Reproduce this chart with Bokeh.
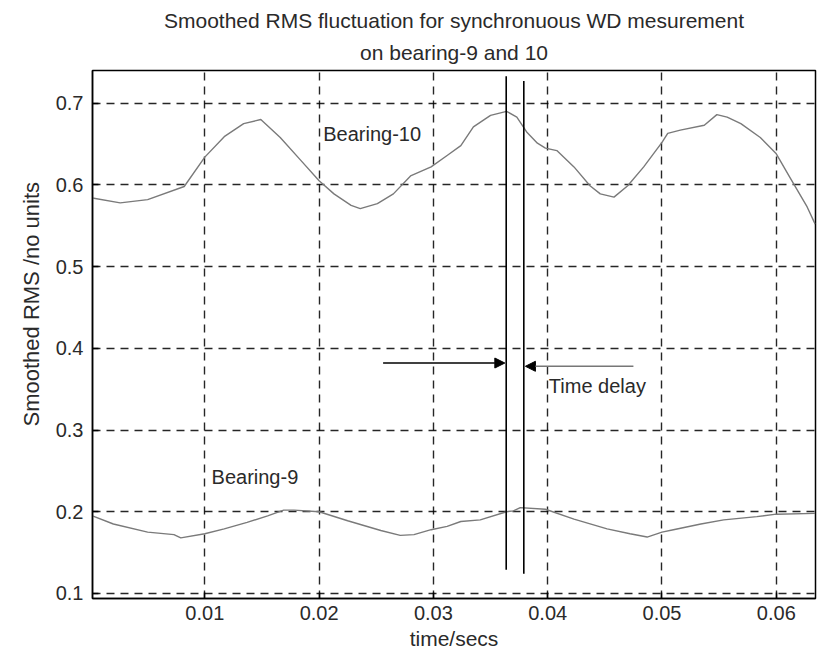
from bokeh.plotting import figure
from bokeh.models import Range1d, FixedTicker, Label, Arrow, NormalHead, Title
from bokeh.embed import file_html
from bokeh.resources import INLINE

# ---- data ----
b10_t = [0.00017, 0.0026, 0.0050, 0.0082, 0.0100, 0.0117, 0.0134, 0.0149, 0.0166, 0.0184,
         0.0200, 0.0213, 0.0228, 0.0236, 0.0251, 0.0265, 0.0280, 0.0298, 0.0312, 0.0324,
         0.0335, 0.0350, 0.0364, 0.0373, 0.0382, 0.0391, 0.0398, 0.0408, 0.0423, 0.0437,
         0.0446, 0.0458, 0.0470, 0.0484, 0.0500, 0.0505, 0.0516, 0.0537, 0.0548, 0.0557,
         0.0569, 0.0586, 0.0600, 0.0612, 0.0627, 0.0634]
b10_v = [0.584, 0.578, 0.582, 0.598, 0.634, 0.659, 0.675, 0.680, 0.658, 0.630,
         0.605, 0.589, 0.575, 0.571, 0.577, 0.589, 0.611, 0.622, 0.636, 0.648,
         0.671, 0.685, 0.690, 0.683, 0.664, 0.651, 0.645, 0.642, 0.622, 0.599,
         0.589, 0.585, 0.599, 0.622, 0.652, 0.663, 0.667, 0.673, 0.686, 0.683,
         0.675, 0.658, 0.638, 0.609, 0.573, 0.552]

b9_t = [0.00017, 0.0020, 0.0050, 0.0073, 0.0079, 0.0100, 0.0117, 0.0137, 0.0155, 0.0169,
        0.0178, 0.0200, 0.0225, 0.0254, 0.0271, 0.0283, 0.0298, 0.0312, 0.0324, 0.0341,
        0.0364, 0.0370, 0.0376, 0.0398, 0.0423, 0.0452, 0.0472, 0.0487, 0.0500, 0.0510,
        0.0534, 0.0554, 0.0583, 0.0600, 0.0634]
b9_v = [0.195, 0.185, 0.175, 0.172, 0.168, 0.173, 0.179, 0.187, 0.195, 0.202,
        0.202, 0.200, 0.189, 0.177, 0.171, 0.172, 0.178, 0.182, 0.188, 0.190,
        0.200, 0.201, 0.205, 0.203, 0.191, 0.179, 0.173, 0.169, 0.175, 0.178,
        0.185, 0.190, 0.194, 0.197, 0.198]

x_ticks = [0.01, 0.02, 0.03, 0.04, 0.05, 0.06]
y_ticks = [0.1, 0.2, 0.3, 0.4, 0.5, 0.6, 0.7]

delay_x = [0.03637, 0.03791]
delay_y0 = [0.129, 0.124]
delay_y1 = [0.733, 0.727]

arrow_left = dict(x0=0.0256, x1=0.03625, y=0.382)
arrow_right = dict(x0=0.0475, x1=0.03805, y=0.378)

title_lines = ["Smoothed RMS fluctuation for synchronuous WD mesurement",
               "on bearing-9 and 10"]
x_label = "time/secs"
y_label = "Smoothed RMS /no units"

FONT = "Liberation Sans"
TXT = "#2a2a2a"

p = figure(width=818, height=657, output_backend="svg", toolbar_location=None,
           x_range=Range1d(0.000175, 0.06343), y_range=Range1d(0.0938, 0.740),
           min_border_left=92, min_border_right=3, min_border_top=70, min_border_bottom=59)
p.background_fill_color = "white"
p.border_fill_color = "white"
p.outline_line_color = "black"
p.outline_line_width = 1.5

for ax, ticks in ((p.xaxis[0], x_ticks), (p.yaxis[0], y_ticks)):
    ax.ticker = FixedTicker(ticks=ticks)
    ax.major_tick_in = 6
    ax.major_tick_out = 0
    ax.minor_tick_line_color = None
    ax.axis_line_color = "black"
    ax.axis_line_width = 1.5
    ax.major_tick_line_width = 1.5
    ax.major_label_text_font = FONT
    ax.major_label_text_font_size = "20px"
    ax.major_label_text_color = TXT
    ax.axis_label_text_font = FONT
    ax.axis_label_text_font_size = "21px"
    ax.axis_label_text_font_style = "normal"
    ax.axis_label_text_color = TXT

p.xaxis.axis_label = x_label
p.xaxis.major_label_standoff = 7
p.xaxis.axis_label_standoff = 4
p.yaxis.major_label_standoff = 9

# y label as a left-side title so it can sit off-centre like the original
p.add_layout(Title(text=y_label, align="left", offset=172, standoff=18,
                   text_font=FONT, text_font_size="22px", text_font_style="normal",
                   text_color=TXT), "left")
# two-line title (nearest line first)
p.add_layout(Title(text=title_lines[1], align="center", standoff=14,
                   text_font=FONT, text_font_size="21px", text_font_style="normal",
                   text_color=TXT), "above")
p.add_layout(Title(text=title_lines[0], align="center", standoff=0,
                   text_font=FONT, text_font_size="21px", text_font_style="normal",
                   text_color=TXT), "above")

for g in (p.xgrid[0], p.ygrid[0]):
    g.grid_line_color = "black"
    g.grid_line_dash = "8 6"
    g.grid_line_width = 1.4
    g.grid_line_alpha = 0.85
p.xgrid.ticker = FixedTicker(ticks=x_ticks)
p.ygrid.ticker = FixedTicker(ticks=y_ticks)

p.line(b10_t, b10_v, line_color="#7a7a7a", line_width=1.4)
p.line(b9_t, b9_v, line_color="#7a7a7a", line_width=1.4)

p.segment(x0=delay_x, y0=delay_y0, x1=delay_x, y1=delay_y1, line_color="black", line_width=1.6)

p.add_layout(Arrow(end=NormalHead(size=10, fill_color="black", line_color="black"),
                   x_start=arrow_left["x0"], y_start=arrow_left["y"],
                   x_end=arrow_left["x1"], y_end=arrow_left["y"],
                   line_color="black", line_width=1.5))
p.add_layout(Arrow(end=NormalHead(size=10, fill_color="black", line_color="black"),
                   x_start=arrow_right["x0"], y_start=arrow_right["y"],
                   x_end=arrow_right["x1"], y_end=arrow_right["y"],
                   line_color="#777777", line_width=1.5))

def lab(x, y, text, size, align="left"):
    p.add_layout(Label(x=x, y=y, text=text, text_font=FONT, text_font_size=size,
                       text_color=TXT, text_align=align, text_baseline="middle"))

lab(0.0401, 0.354, "Time delay", "20px")
lab(0.02036, 0.662, "Bearing-10", "20px")
lab(0.01059, 0.2423, "Bearing-9", "20px")

open("out.html", "w").write(file_html(p, INLINE))
